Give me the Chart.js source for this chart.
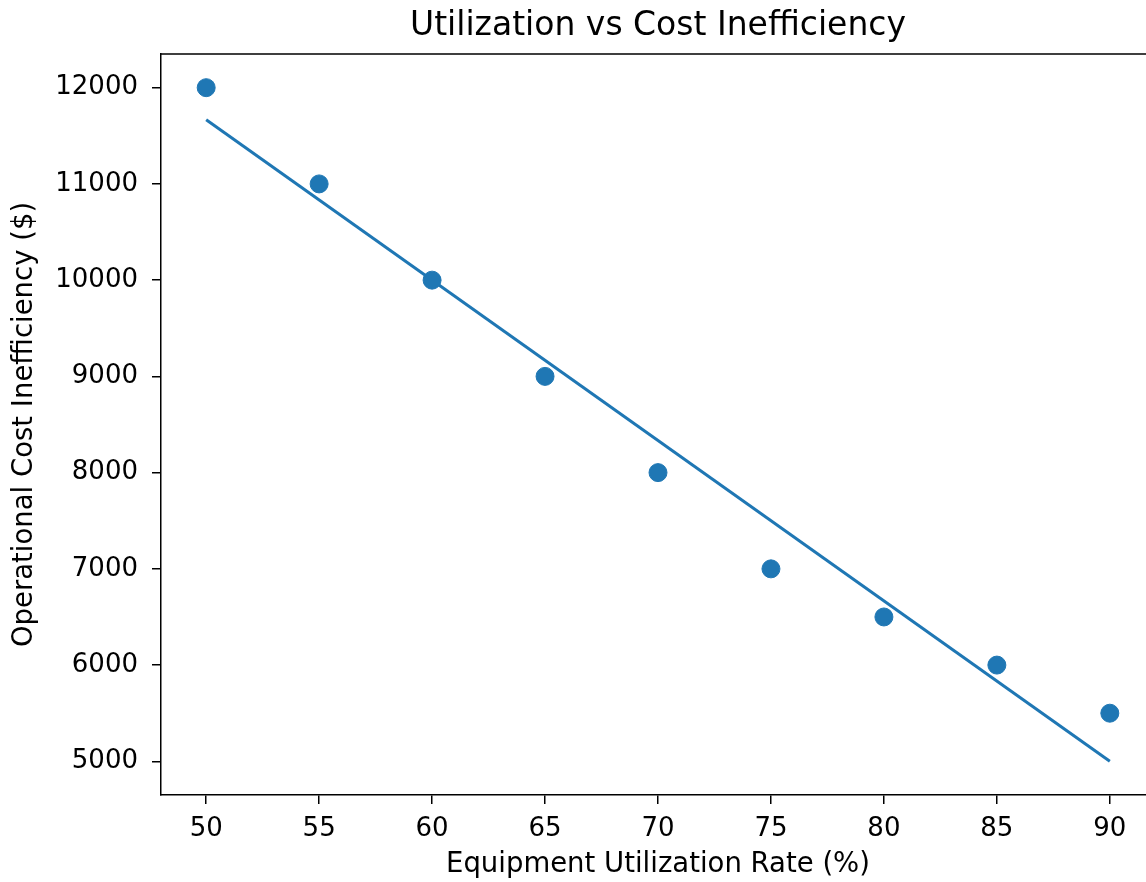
<!DOCTYPE html>
<html>
<head>
<meta charset="utf-8">
<script src="https://cdn.jsdelivr.net/npm/chart.js@4"></script>
<style>
  html, body { margin: 0; padding: 0; background: #fff; overflow: hidden; }
  .wrap { width: 1156px; height: 882px; }
  canvas { display: block; }
</style>
</head>
<body>
<div class="wrap"><canvas id="chart"></canvas></div>
<script>
// data
const utilization = [50, 55, 60, 65, 70, 75, 80, 85, 90];
const costInefficiency = [12000, 11000, 10000, 9000, 8000, 7000, 6500, 6000, 5500];
const trendX = [50, 90];
const trendY = [11667, 5000];
const xTicks = [50, 55, 60, 65, 70, 75, 80, 85, 90];
const yTicks = [5000, 6000, 7000, 8000, 9000, 10000, 11000, 12000];

const blue = "#1f77b4";
const font = "'DejaVu Sans', sans-serif";

// top spine, chart.js only draws left/bottom borders
const frame = {
  id: "frame",
  afterDraw(chart) {
    const { ctx, chartArea } = chart;
    ctx.save();
    ctx.strokeStyle = "#000";
    ctx.lineWidth = 1.5;
    ctx.beginPath();
    ctx.moveTo(chartArea.left, chartArea.top);
    ctx.lineTo(chartArea.right, chartArea.top);
    ctx.lineTo(chartArea.right, chartArea.bottom);
    ctx.stroke();
    ctx.restore();
  },
};

const axisStyle = {
  border: { display: true, color: "#000", width: 1.5 },
  grid: { drawOnChartArea: false, drawTicks: true, tickLength: 9, color: "#000", lineWidth: 1.5 },
};

new Chart(document.getElementById("chart"), {
  type: "scatter",
  data: {
    datasets: [
      {
        data: utilization.map((x, i) => ({ x: x, y: costInefficiency[i] })),
        backgroundColor: blue,
        borderColor: blue,
        pointRadius: 9,
        pointHoverRadius: 9,
        order: 1,
      },
      {
        data: trendX.map((x, i) => ({ x: x, y: trendY[i] })),
        showLine: true,
        borderColor: blue,
        borderWidth: 3,
        pointRadius: 0,
        fill: false,
        order: 2,
      },
    ],
  },
  options: {
    responsive: true,
    maintainAspectRatio: false,
    animation: false,
    layout: { autoPadding: false, padding: { right: 1 } },
    plugins: {
      legend: { display: false },
      tooltip: { enabled: false },
      title: {
        display: true,
        fullSize: false,
        text: "Utilization vs Cost Inefficiency",
        color: "#000",
        font: { family: font, size: 33, weight: "normal" },
        padding: { top: 7, bottom: 7.4 },
      },
    },
    scales: {
      x: {
        type: "linear",
        min: 48,
        max: 92,
        ...axisStyle,
        afterBuildTicks: (s) => { s.ticks = xTicks.map((v) => ({ value: v })); },
        afterFit: (s) => { s.height = 87; },
        ticks: {
          color: "#000", padding: 10, maxRotation: 0,
          font: { family: font, size: 26 },
          callback: (v) => String(v),
        },
        title: {
          display: true,
          text: "Equipment Utilization Rate (%)",
          color: "#000",
          font: { family: font, size: 27.5 },
          padding: { top: 2, bottom: 1 },
        },
      },
      y: {
        type: "linear",
        min: 4650,
        max: 12350,
        ...axisStyle,
        afterBuildTicks: (s) => { s.ticks = yTicks.map((v) => ({ value: v })); },
        afterFit: (s) => { s.width = 161; },
        ticks: {
          color: "#000", padding: 14,
          font: { family: font, size: 26 },
          callback: (v) => String(v),
        },
        title: {
          display: true,
          text: "Operational Cost Inefficiency ($)",
          color: "#000",
          font: { family: font, size: 27.5 },
          padding: { top: 8, bottom: 4 },
        },
      },
    },
  },
  plugins: [frame],
});
</script>
</body>
</html>
